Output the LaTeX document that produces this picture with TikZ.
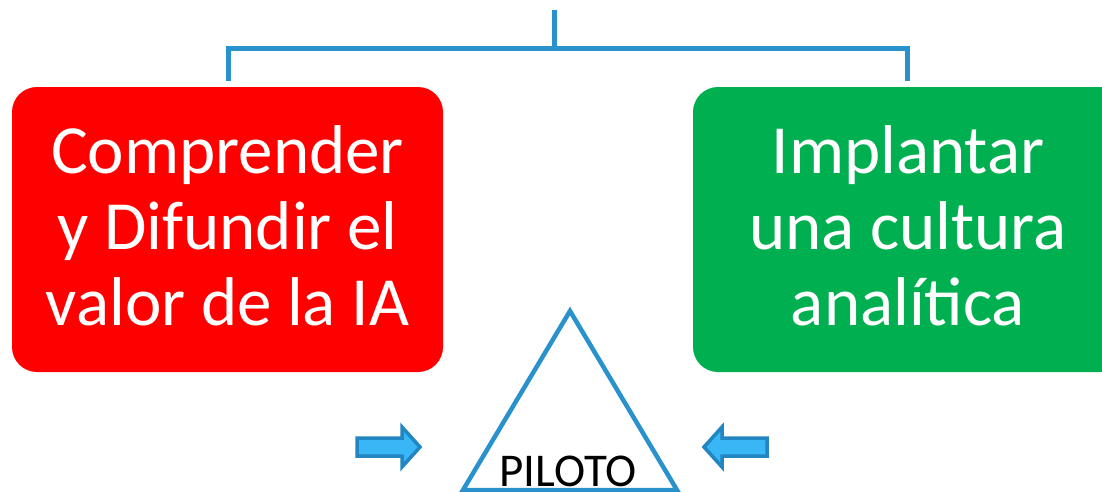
\documentclass[tikz,border=0pt]{standalone}
\usepackage{fontspec}
\setmainfont{Carlito}
\definecolor{linkblue}{RGB}{41,146,204}
\definecolor{boxred}{RGB}{255,0,0}
\definecolor{boxgreen}{RGB}{0,176,80}
\definecolor{arrfill}{RGB}{56,182,245}
\definecolor{arredge}{RGB}{34,134,194}
\tikzset{
  goalbox/.style={rounded corners=25pt, draw=none},
  bigtext/.style={text=white, align=center, font=\fontsize{69}{76}\selectfont, anchor=base, inner sep=0pt},
  link/.style={draw=linkblue, line width=5pt},
  fatarrow/.style={fill=arrfill, draw=arredge, line width=3.5pt, line join=miter},
}
\begin{document}
\begin{tikzpicture}[x=1pt,y=-1pt]
\useasboundingbox (0,0) rectangle (1102,491);
\begin{scope}
\clip (0,0) rectangle (1102,491);
% boxes
\fill[boxred, goalbox] (12,87) rectangle (443,372);
\fill[boxgreen, goalbox] (693,87) rectangle (1125,372);
\node[bigtext] (left) at (227.5,325) {Comprender\\y Difundir el\\valor de la IA};
\node[bigtext] (right) at (908,325) {Implantar\\una cultura\\analítica};
% bracket
\coordinate (top) at (554,10);
\coordinate (mid) at (554,48);
\coordinate (lc) at (228,48);
\coordinate (rc) at (907,48);
\coordinate (lb) at (228,81);
\coordinate (rb) at (907,81);
\draw[link] (top) -- (mid);
\draw[link, line join=miter] (lb) -- (lc) -- (rc) -- (rb);
% triangle
\coordinate (apex) at (570,311);
\coordinate (bl) at (463,490);
\coordinate (br) at (677,490);
\draw[draw=linkblue, line width=4.5pt, line join=miter] (bl) -- (apex) -- (br) -- cycle;
\node[font=\fontsize{47}{52}\selectfont, anchor=base, inner sep=0pt] (piloto) at (568,486) {PILOTO};
% arrows
\draw[fatarrow] (357,438) -- (402,438) -- (402,427) -- (420,447) -- (402,467) -- (402,456) -- (357,456) -- cycle;
\draw[fatarrow] (767,438) -- (722,438) -- (722,427) -- (704,447) -- (722,467) -- (722,456) -- (767,456) -- cycle;
\end{scope}
\end{tikzpicture}
\end{document}
